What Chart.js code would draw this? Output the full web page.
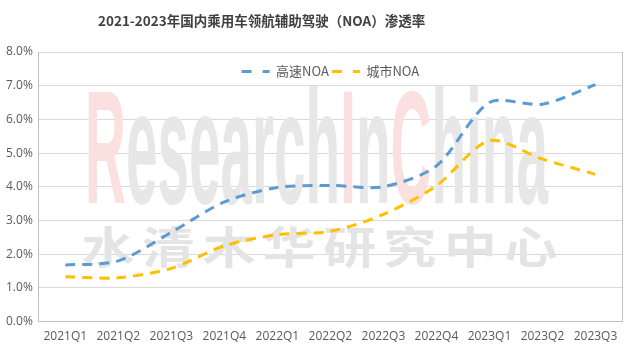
<!DOCTYPE html>
<html>
<head>
<meta charset="utf-8">
<script src="https://cdn.jsdelivr.net/npm/chart.js@4/dist/chart.umd.min.js"></script>
<style>
  body { margin: 0; background: #fff; }
  #wrap { position: relative; width: 636px; height: 352px; }
  #wrap canvas { display: block; }
  #title {
    position: absolute; left: 98px; top: 10px;
    font: bold 13.5px "Noto Sans CJK SC", sans-serif; color: #404040;
    white-space: nowrap;
  }
</style>
</head>
<body>
<div id="wrap">
  <div id="title">2021-2023年国内乘用车领航辅助驾驶（NOA）渗透率</div>
  <canvas id="chart" width="636" height="352"></canvas>
</div>
<script>
const quarters = ['2021Q1', '2021Q2', '2021Q3', '2021Q4', '2022Q1', '2022Q2', '2022Q3', '2022Q4', '2023Q1', '2023Q2', '2023Q3'];
const highwayNoa = [1.68, 1.8, 2.65, 3.55, 3.98, 4.04, 4.0, 4.62, 6.5, 6.45, 7.03];
const cityNoa = [1.33, 1.3, 1.58, 2.25, 2.58, 2.68, 3.18, 4.03, 5.37, 4.82, 4.37];
const yTicks = [0, 1, 2, 3, 4, 5, 6, 7, 8];

// faint "ResearchInChina / 水清木华研究中心" stamp behind the lines
const watermark = {
  id: 'watermark',
  afterLayout(chart) {
    // legend sits inside the plot area, just under the top border
    const lg = chart.legend;
    const h = lg.bottom - lg.top;
    lg.top = chart.chartArea.top + 10;
    lg.bottom = lg.top + h;
  },
  beforeDatasetsDraw(chart) {
    const ctx = chart.ctx;
    ctx.save();
    ctx.font = 'bold 162px "Liberation Sans", sans-serif';
    ctx.textBaseline = 'alphabetic';
    const parts = [['R', '#fbe0e0'], ['esearch', '#e7e7e7'], ['I', '#fbe0e0'], ['n', '#e7e7e7'], ['C', '#fbe0e0'], ['hina', '#e7e7e7']];
    const full = ctx.measureText('ResearchInChina').width;
    ctx.translate(85, 203);
    ctx.scale(463 / full, 1);
    let x = 0;
    parts.forEach(p => {
      ctx.fillStyle = p[1];
      ctx.fillText(p[0], x, 0);
      x += ctx.measureText(p[0]).width;
    });
    ctx.restore();

    ctx.save();
    ctx.font = 'bold 44px "Noto Sans CJK SC", sans-serif';
    ctx.fillStyle = '#e4e4e4';
    ctx.textBaseline = 'middle';
    ctx.textAlign = 'center';
    '水清木华研究中心'.split('').forEach((c, i) => {
      ctx.save();
      ctx.translate(108 + i * 60.4, 247);
      ctx.scale(1.2, 1);
      ctx.fillText(c, 0, 0);
      ctx.restore();
    });
    ctx.restore();
  },
  afterDraw(chart) {
    const a = chart.chartArea;
    const ctx = chart.ctx;
    ctx.save();
    ctx.strokeStyle = '#bfbfbf';
    ctx.lineWidth = 1;
    ctx.beginPath();
    ctx.moveTo(Math.round(a.right) + 0.5, a.top);
    ctx.lineTo(Math.round(a.right) + 0.5, a.bottom);
    ctx.stroke();
    ctx.restore();
  }
};

let canvasElem = document.getElementById('chart');

const data = {
  labels: quarters,
  datasets: [
    {
      label: '高速NOA',
      data: highwayNoa,
      borderColor: '#5b9bd5',
      backgroundColor: '#5b9bd5',
      borderWidth: 3,
      borderDash: [10, 7],
      pointRadius: 0,
      tension: 0.28,
      fill: false
    },
    {
      label: '城市NOA',
      data: cityNoa,
      borderColor: '#ffc000',
      backgroundColor: '#ffc000',
      borderWidth: 3,
      borderDash: [10, 7],
      pointRadius: 0,
      tension: 0.28,
      fill: false
    }
  ]
};

const config = {
  type: 'line',
  data: data,
  options: {
    responsive: false,
    animation: false,
    layout: { padding: { left: 0, right: 14, top: 26, bottom: 0 } },
    plugins: {
      title: { display: false },
      tooltip: { enabled: false },
      legend: {
        position: 'top',
        align: 'center',
        fullSize: false,
        labels: {
          usePointStyle: true,
          pointStyle: 'line',
          pointStyleWidth: 28,
          padding: 3,
          color: '#595959',
          font: { family: '"Noto Sans CJK SC", sans-serif', size: 13 },
          generateLabels(chart) {
            const items = Chart.defaults.plugins.legend.labels.generateLabels(chart);
            items.forEach((item, i) => {
              const ds = chart.data.datasets[i];
              item.strokeStyle = ds.borderColor;
              item.lineWidth = ds.borderWidth;
              item.lineDash = [10, 11];
            });
            return items;
          }
        }
      }
    },
    scales: {
      x: {
        offset: true,
        grid: { display: false, drawTicks: false },
        border: { display: true, color: '#bfbfbf' },
        ticks: {
          color: '#595959',
          padding: 8,
          maxRotation: 0,
          autoSkip: false,
          font: { family: '"Open Sans", sans-serif', size: 12 }
        }
      },
      y: {
        min: 0,
        max: 8,
        afterBuildTicks(axis) {
          axis.ticks = yTicks.map(v => ({ value: v }));
        },
        grid: { color: '#d9d9d9', drawTicks: false },
        border: { display: true, color: '#bfbfbf' },
        ticks: {
          color: '#595959',
          padding: 6,
          font: { family: '"Open Sans", sans-serif', size: 12 },
          callback: v => v.toFixed(1) + '%'
        }
      }
    }
  },
  plugins: [watermark]
};

new Chart(canvasElem, config);
</script>
</body>
</html>
